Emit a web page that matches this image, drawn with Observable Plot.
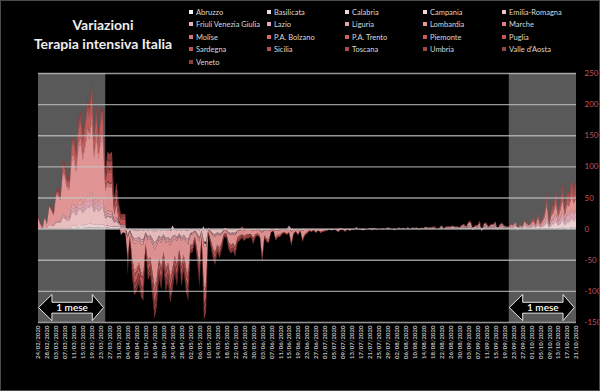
<!DOCTYPE html>
<html><head><meta charset="utf-8">
<script src="https://cdn.jsdelivr.net/npm/d3@7"></script>
<script src="https://cdn.jsdelivr.net/npm/@observablehq/plot@0.6"></script>
<style>
html,body{margin:0;padding:0;background:#000;}
#wrap{position:relative;width:600px;height:391px;background:#000;overflow:hidden;font-family:Lato,"Open Sans",sans-serif;}
#chart{position:absolute;left:0;top:0;}
#frame{position:absolute;left:0;top:0;width:600px;height:391px;box-sizing:border-box;border:1px solid #4a4a4a;pointer-events:none;}
#title{position:absolute;left:20px;width:166px;top:15px;text-align:center;color:#eeeeee;font-weight:700;font-size:14px;line-height:19px;}
.leg{position:absolute;font-size:7.5px;color:#d9d9d9;white-space:nowrap;line-height:9px;}
.leg i{display:inline-block;width:4px;height:4px;margin-right:3px;vertical-align:middle;position:relative;top:-1px;}
</style></head>
<body><div id="wrap"><div id="chart"></div><div id="title">Variazioni<br>Terapia intensiva Italia</div><div id="legend"></div><div id="frame"></div></div>
<script>
const regions = ["Abruzzo","Basilicata","Calabria","Campania","Emilia-Romagna","Friuli Venezia Giulia","Lazio","Liguria","Lombardia","Marche","Molise","P.A. Bolzano","P.A. Trento","Piemonte","Puglia","Sardegna","Sicilia","Toscana","Umbria","Valle d'Aosta","Veneto"];
const colors = ["#f2f2f2","#e8dcdc","#efd4d4","#f2d6da","#f0c4c4","#eab0bc","#e6a8bc","#e8a4a4","#e89898","#e08080","#dc7078","#d86868","#d26262","#cc5c5c","#c65656","#bb5454","#b35050","#ab4c4c","#a24848","#984444","#8e3c3c"];
const startDate = "2020-02-24";
const yTicks = [-150,-100,-50,0,50,100,150,200,250];

const abruzzo = [
0,0,0,0,0,0,0,0,0,0,
0,0,0,0,0,1,1,1,2,1,
1,1,2,1,2,1,2,1,1,1,
1,1,1,1,1,1,1,0,0,0,
-1,0,-1,-1,-1,-1,-1,-1,-1,-1,
-1,-1,-1,-1,-1,-1,-1,-1,-1,-1,
-1,-1,-1,-1,-1,-1,-1,-1,-1,-1,
0,-1,-1,0,-1,-1,0,0,-1,-1,
-1,-1,-1,0,0,-1,-1,-1,-1,0,
0,0,0,0,0,0,0,0,0,0,
0,0,0,0,0,0,0,0,0,0,
0,0,0,0,0,0,0,0,0,0,
0,0,0,0,0,0,0,0,0,0,
0,0,0,0,0,0,0,0,0,0,
0,0,0,0,0,0,0,0,0,0,
0,0,0,0,0,0,0,0,0,0,
0,0,0,0,0,0,0,0,0,0,
0,0,0,0,0,0,0,0,0,0,
0,0,0,0,0,0,0,0,0,0,
0,0,0,0,0,0,0,0,0,0,
0,0,0,0,0,0,0,0,0,0,
0,0,0,0,0,0,0,0,0,0,
0,0,0,1,0,0,0,1,0,0,
1,1,0,1,1,0,1,1,1,1,1];
const basilicata = [
0,0,0,0,0,0,0,0,0,0,
0,0,0,0,0,0,0,0,0,0,
0,0,0,1,0,0,0,1,0,0,
0,0,0,0,0,0,0,0,0,0,
0,0,0,0,0,0,0,0,0,0,
0,0,-1,0,0,0,0,0,0,0,
0,0,0,0,0,0,0,0,0,0,
0,0,0,0,0,0,0,0,0,0,
0,0,0,0,0,0,0,0,0,0,
0,0,0,0,0,0,0,0,0,0,
0,0,0,0,0,0,0,0,0,0,
0,0,0,0,0,0,0,0,0,0,
0,0,0,0,0,0,0,0,0,0,
0,0,0,0,0,0,0,0,0,0,
0,0,0,0,0,0,0,0,0,0,
0,0,0,0,0,0,0,0,0,0,
0,0,0,0,0,0,0,0,0,0,
0,0,0,0,0,0,0,0,0,0,
0,0,0,0,0,0,0,0,0,0,
0,0,0,0,0,0,0,0,0,0,
0,0,0,0,0,0,0,0,0,0,
0,0,0,0,0,0,0,0,0,0,
0,0,0,0,0,0,0,0,0,0,
0,0,0,0,0,0,0,0,0,0,0];
const calabria = [
0,0,0,0,0,0,0,0,0,0,
0,0,0,0,0,0,0,0,0,0,
0,1,0,1,0,1,0,1,0,1,
0,1,0,0,0,0,0,0,0,0,
0,0,0,-1,0,0,-1,0,0,0,
0,0,-1,0,0,0,0,-1,0,0,
0,0,0,0,0,0,0,0,0,0,
0,0,0,0,0,0,0,0,0,0,
0,0,0,0,0,0,0,0,0,0,
0,0,0,0,0,0,0,0,0,0,
0,0,0,0,0,0,0,0,0,0,
0,0,0,0,0,0,0,0,0,0,
0,0,0,0,0,0,0,0,0,0,
0,0,0,0,0,0,0,0,0,0,
0,0,0,0,0,0,0,0,0,0,
0,0,0,0,0,0,0,0,0,0,
0,0,0,0,0,0,0,0,0,0,
0,0,0,0,0,0,0,0,0,0,
0,0,0,0,0,0,0,0,0,0,
0,0,0,0,0,0,0,0,0,0,
0,0,0,0,0,0,0,0,0,0,
0,0,0,0,0,0,0,0,0,0,
0,0,0,0,0,0,0,0,0,0,
0,0,0,0,1,0,0,0,1,0,1];
const campania = [
0,0,0,0,0,0,0,0,0,0,
0,1,1,1,1,3,4,3,4,5,
4,5,5,5,6,4,5,4,5,5,
3,3,3,3,2,3,2,2,2,2,
-1,0,-1,-1,-2,-2,-2,-2,-1,-2,
-1,-2,-3,-2,-1,-2,-1,-2,-2,-3,
5,-1,-2,-1,-2,-1,-2,-2,-1,-1,
0,-1,-2,0,-3,-3,1,-1,-1,-1,
-1,-1,-1,0,0,-1,-1,-1,-1,0,
0,0,0,0,0,0,0,0,0,0,
0,0,0,0,0,0,0,0,0,0,
0,0,2,0,0,0,0,0,0,0,
0,0,0,0,0,0,0,0,0,0,
0,0,0,0,0,0,0,0,0,0,
0,0,0,0,0,0,0,0,0,0,
0,0,0,0,0,0,0,0,0,0,
0,0,0,0,0,0,0,0,0,1,
0,0,0,0,0,1,0,0,0,0,
1,0,1,0,1,0,1,0,1,1,
1,1,2,2,1,1,1,2,1,2,
2,1,1,2,2,1,2,2,1,1,
1,2,1,3,2,2,1,3,2,2,
2,3,2,4,2,3,5,9,2,5,
6,10,5,7,11,5,9,9,12,10,12];
const emilia = [
1,1,0,3,1,6,5,4,9,10,
9,17,15,12,12,20,22,17,23,25,
20,23,27,25,31,20,26,20,25,25,
12,15,14,14,6,8,4,1,2,0,
-8,-2,-9,-13,-12,-10,-13,-14,-4,-10,
-8,-13,-17,-15,-9,-12,-7,-12,-10,-14,
-11,-8,-11,-6,-11,-8,-12,-14,-5,-4,
-3,-6,-11,-3,-17,-16,-1,-3,-6,-7,
-4,-6,-4,-2,-2,-4,-5,-4,-5,-3,
-2,-2,-2,-2,-2,-2,-3,-2,-1,-2,
-4,-2,-3,-3,-1,-1,-3,-2,-2,-1,
-1,-2,-1,-4,-2,-1,-2,-1,-3,-2,
-1,-1,-1,0,-1,-1,-1,-1,0,-1,
0,-1,0,0,-1,0,-1,-1,0,-1,
0,-1,1,0,0,-1,0,0,0,0,
1,0,0,0,0,0,1,0,0,0,
0,0,0,1,0,0,0,1,0,0,
0,0,0,1,0,0,1,0,0,0,
1,0,0,1,0,1,0,1,0,1,
1,-1,1,1,-1,0,1,1,-1,1,
1,0,1,1,1,1,1,1,1,0,
0,0,1,1,-1,0,0,1,1,1,
0,1,0,1,0,1,1,3,0,2,
2,3,1,2,4,2,3,3,4,3,4];
const friuli = [
0,0,0,0,0,0,0,0,1,0,
1,1,1,1,1,2,1,1,2,2,
2,2,3,2,3,2,3,2,2,2,
1,1,1,1,0,1,0,0,0,0,
-1,0,-1,-1,-1,-1,-1,-1,-1,-1,
-1,-1,-1,-1,-1,-1,-1,-1,-1,-1,
-1,-1,-1,-1,-1,-1,-1,-1,-1,-1,
0,-1,-1,0,-1,-1,0,0,-1,-1,
-1,-1,-1,0,0,-1,-1,-1,-1,0,
0,0,0,0,0,0,0,0,0,0,
0,0,0,0,0,0,0,0,0,0,
0,0,0,0,0,0,0,0,0,0,
0,0,0,0,0,0,0,0,0,0,
0,0,0,0,0,0,0,0,0,0,
0,0,0,0,0,0,0,0,0,0,
0,0,0,0,0,0,0,0,0,0,
0,0,0,0,0,0,0,0,0,0,
0,0,0,0,0,0,0,0,0,0,
0,0,0,0,0,0,0,0,0,0,
0,0,0,0,0,0,0,0,0,0,
0,0,0,0,0,0,0,0,0,0,
0,0,0,0,0,0,0,0,0,0,
0,0,0,0,0,0,0,0,0,0,
0,0,0,0,0,0,0,0,1,0,0];
const lazio = [
0,0,0,0,0,0,0,1,1,1,
1,2,2,1,2,5,5,5,6,6,
5,6,7,7,8,5,7,5,7,7,
3,4,4,4,2,3,2,2,2,2,
-2,2,-2,-3,-3,-2,-3,-3,0,-2,
-2,-3,-4,-3,-2,-3,-1,-2,-2,-3,
-2,-2,-2,-1,-2,-2,-2,-3,-1,0,
0,-1,-2,0,4,-4,1,-1,-1,-1,
0,-1,-1,1,1,-1,-1,-1,-1,0,
0,0,0,0,0,0,0,0,0,0,
-1,0,0,0,-1,0,0,0,0,0,
0,0,3,0,0,0,0,0,0,0,
0,0,0,0,0,0,0,0,0,0,
0,0,0,0,0,1,0,0,0,0,
0,0,1,0,0,0,0,0,1,0,
0,0,0,0,0,0,1,0,0,0,
0,1,0,0,0,1,0,0,1,0,
0,1,0,1,1,0,1,1,0,1,
1,0,1,1,1,2,1,1,1,1,
2,1,2,3,1,2,1,3,-1,2,
2,1,2,1,3,-1,1,2,1,1,
1,2,2,2,-1,1,1,3,2,1,
2,3,1,4,1,3,4,8,1,5,
5,8,4,6,9,5,8,7,10,8,10];
const liguria = [
0,0,0,0,0,0,0,0,1,1,
1,2,2,2,2,6,6,5,7,8,
6,7,8,8,10,6,8,6,8,8,
4,5,5,5,2,3,2,1,1,1,
-3,-1,-3,-4,-4,-3,-4,-4,-2,-3,
-3,-4,-6,-5,-3,-4,-2,-4,-3,-5,
-4,-3,-3,-2,-3,-2,-4,-4,-1,-2,
-1,-2,-4,-1,-6,-5,0,-1,-2,-2,
-2,-2,-1,-1,-1,-1,-1,-1,-2,-1,
-1,0,-1,0,0,0,-1,0,-1,-1,
-2,-1,-1,-1,0,0,-1,-1,-1,0,
-1,0,0,-1,0,0,-1,0,-1,0,
0,0,0,0,-1,0,0,0,0,0,
0,0,0,0,0,0,0,0,0,0,
0,0,0,0,0,0,0,0,0,0,
0,0,0,0,0,0,0,0,0,0,
0,0,0,0,0,0,0,0,0,0,
0,0,0,0,0,0,0,0,0,0,
0,0,0,0,0,0,0,0,0,0,
0,0,1,0,0,0,1,0,0,1,
0,0,0,0,1,0,0,1,0,0,
0,0,0,1,0,0,0,1,0,0,
1,1,0,1,1,0,1,3,0,1,
2,3,1,2,3,1,3,3,4,3,3];
const lombardia = [
17,7,1,15,6,30,24,16,40,40,
33,64,60,46,44,71,72,58,83,89,
72,84,98,93,112,73,94,71,92,89,
37,40,38,40,10,20,2,-10,-6,-8,
-29,-10,-31,-44,-40,-36,-45,-48,-16,-33,
-29,-44,-60,-52,-31,-40,-24,-42,-35,-50,
-45,-28,-38,-22,-38,-27,-41,-48,-16,-16,
-9,-22,-38,-9,-68,-56,-4,-12,-19,-25,
-16,-19,-13,-5,-5,-13,-16,-14,-18,-10,
-8,-7,-9,-7,-7,-7,-11,-7,-6,-8,
-40,-8,-12,-13,-3,-2,-11,-7,-7,-5,
-4,-6,-5,-18,-5,-3,-6,-2,-13,-7,
-5,-2,-3,-2,-4,-2,-4,-3,-3,-2,
-1,-2,-1,-2,-4,-1,-1,-3,-1,-2,
-1,-1,1,-1,-1,-2,-1,0,0,-2,
0,-1,0,0,1,-1,0,1,0,-2,
0,1,-1,0,0,1,-1,1,0,1,
-2,0,1,1,0,1,0,1,-1,0,
2,0,1,1,1,1,1,1,0,2,
2,1,3,3,-2,1,1,3,-3,2,
2,1,2,2,3,-2,2,2,1,1,
1,2,1,3,-2,2,1,3,2,1,
3,4,2,6,2,4,7,13,2,8,
9,14,7,11,16,8,14,13,18,15,17];
const marche = [
0,0,0,0,0,0,1,1,2,2,
2,4,4,4,4,8,8,7,9,10,
8,9,10,10,12,8,10,8,10,10,
5,5,5,5,1,2,1,-1,0,0,
-3,-1,-4,-5,-5,-4,-5,-5,-2,-4,
-3,-5,-7,-6,-4,-4,-3,-5,-4,-6,
-4,-3,-4,-3,-4,-3,-5,-5,-2,-2,
-1,-3,-4,-1,-7,-6,0,-1,-2,-3,
-2,-2,-1,0,0,-1,-2,-2,-2,-1,
-1,-1,-1,-1,-1,0,-1,-1,0,0,
0,0,0,0,0,0,0,0,0,0,
0,0,0,0,0,0,0,0,0,0,
0,0,0,0,0,0,0,0,0,0,
0,0,0,0,0,0,0,0,0,0,
0,0,0,0,0,0,0,0,0,0,
0,0,0,0,0,0,0,0,0,0,
0,0,0,0,0,0,0,0,0,0,
0,0,0,0,0,0,0,0,0,0,
0,0,0,0,0,0,0,0,0,0,
0,0,0,0,0,0,0,0,0,0,
0,0,0,0,0,0,0,0,0,0,
0,0,0,0,0,0,0,0,0,0,
0,0,0,0,0,0,1,0,0,0,
1,1,1,0,1,0,1,0,1,1,1];
const molise = [
0,0,0,0,0,0,0,0,0,0,
0,0,0,0,0,0,0,0,0,0,
0,0,0,0,1,0,0,0,0,1,
0,0,0,0,0,0,0,0,0,0,
0,0,0,0,0,0,-1,0,0,0,
0,0,0,0,0,0,0,0,0,0,
0,0,0,0,0,0,0,0,0,0,
0,0,0,0,0,0,0,0,0,0,
0,0,0,0,0,0,0,0,0,0,
0,0,0,0,0,0,0,0,0,0,
0,0,0,0,0,0,0,0,0,0,
0,0,0,0,0,0,0,0,0,0,
0,0,0,0,0,0,0,0,0,0,
0,0,0,0,0,0,0,0,0,0,
0,0,0,0,0,0,0,0,0,0,
0,0,0,0,0,0,0,0,0,0,
0,0,0,0,0,0,0,0,0,0,
0,0,0,0,0,0,0,0,0,0,
0,0,0,0,0,0,0,0,0,0,
0,0,0,0,0,0,0,0,0,0,
0,0,0,0,0,0,0,0,0,0,
0,0,0,0,0,0,0,0,0,0,
0,0,0,0,0,0,0,0,0,0,
0,0,0,0,0,0,0,0,0,0,0];
const bolzano = [
0,0,0,0,0,0,0,0,0,0,
0,1,1,1,1,1,1,1,2,2,
1,2,2,2,2,1,2,1,1,1,
0,1,1,1,0,0,0,0,0,0,
-1,0,-1,-1,-1,-1,-1,-1,0,-1,
-1,-1,-1,-1,-1,-1,-1,-1,-1,-1,
-1,-1,-1,0,-1,-1,-1,-1,0,0,
0,0,-1,0,-1,-1,0,0,0,0,
0,0,0,0,0,0,0,0,0,0,
0,0,0,0,0,0,0,0,0,0,
0,0,0,0,0,0,0,0,0,0,
0,0,0,0,0,0,0,0,0,0,
0,0,0,0,0,0,0,0,0,0,
0,0,0,0,0,0,0,0,0,0,
0,0,0,0,0,0,0,0,0,0,
0,0,0,0,0,0,0,0,0,0,
0,0,0,0,0,0,0,0,0,0,
0,0,0,0,0,0,0,0,0,0,
0,0,0,0,0,0,0,0,0,0,
0,0,0,0,0,0,0,0,0,0,
0,0,0,0,0,0,0,0,0,0,
0,0,0,0,0,0,0,0,0,0,
0,0,0,0,0,0,0,0,0,0,
0,0,0,0,0,0,0,0,0,0,0];
const trento = [
0,0,0,0,0,0,0,0,0,1,
0,1,1,1,1,1,2,1,2,2,
2,2,2,2,3,2,2,2,2,2,
1,1,1,1,1,0,0,0,0,0,
-2,-1,-2,-2,-2,-2,-2,-2,-1,-2,
-2,-2,-2,-2,-2,-2,-2,-2,-2,-2,
-2,-2,-2,-1,-2,-2,-2,-2,-1,-1,
-1,-1,-2,-1,-2,-2,0,-1,-1,-1,
-1,-1,-1,-1,-1,-1,-1,-1,-1,-1,
-1,0,-1,-1,-1,0,-1,0,0,0,
0,0,0,0,0,0,0,0,0,0,
0,0,0,0,0,0,0,0,0,0,
0,0,0,0,0,0,0,0,0,0,
0,0,0,0,0,0,0,0,0,0,
0,0,0,0,0,0,0,0,0,0,
0,0,0,0,0,0,0,0,0,0,
0,0,0,0,0,0,0,0,0,0,
0,0,0,0,0,0,0,0,0,0,
0,0,0,0,0,0,0,0,0,0,
0,0,0,0,0,0,0,0,0,0,
0,0,0,0,0,0,0,0,0,0,
0,0,0,0,0,0,0,0,0,0,
0,0,0,0,0,0,0,0,0,0,
0,1,0,0,1,0,1,0,1,1,1];
const piemonte = [
0,0,0,0,0,1,1,1,3,4,
3,7,7,6,6,13,14,12,17,19,
15,18,21,20,24,16,20,15,19,19,
9,16,16,16,10,14,12,8,8,9,
-8,0,-9,-12,-11,-9,-12,-13,-4,-9,
-8,-12,-16,-14,-9,-11,-6,-11,-9,-13,
-10,-7,-10,-6,-10,-7,-11,-13,-4,-4,
-3,-6,-10,-3,-16,-15,-2,-3,-5,-7,
-4,-5,-4,-2,-2,-4,-4,-4,-5,-3,
-2,-2,-2,-2,-2,-2,-3,-2,-2,-3,
-5,-3,-4,-4,-1,-1,-3,-3,-2,-2,
-1,-2,-1,-4,-2,-1,-2,-1,-3,-2,
-2,-1,-1,-1,-1,0,-2,-1,-1,0,
-1,0,0,-1,-1,0,0,-1,0,-1,
-1,0,0,0,-1,0,0,0,0,-1,
0,0,0,0,0,0,0,0,0,-1,
0,0,0,0,0,0,0,0,0,0,
0,0,0,0,0,0,0,0,0,0,
0,0,0,0,0,0,0,0,0,0,
0,0,0,0,0,0,0,0,0,0,
0,0,0,0,0,0,0,0,1,0,
0,1,0,1,0,0,0,1,1,0,
1,2,1,3,1,2,3,6,1,4,
4,7,3,5,7,4,6,6,8,7,8];
const puglia = [
0,0,0,0,0,0,0,0,0,0,
0,0,1,0,0,2,3,3,3,4,
3,4,4,4,5,3,4,3,4,4,
2,4,4,4,2,3,3,2,2,2,
-1,-1,-1,-1,-1,-1,-1,-2,0,-1,
-1,-1,-3,-2,-1,-1,-1,-1,-1,2,
-2,-1,-2,-1,-2,-1,-1,-2,0,0,
0,-1,-2,0,-3,-2,0,0,-1,-1,
0,-1,0,0,0,0,0,0,-1,0,
0,3,0,0,0,0,0,0,0,0,
0,0,0,0,0,0,0,0,0,0,
0,0,0,0,0,0,0,0,0,0,
0,0,0,0,0,0,0,0,0,0,
0,0,0,0,0,0,0,0,0,0,
0,0,0,0,0,0,0,0,0,0,
0,0,0,0,0,0,0,0,0,0,
0,0,0,0,0,0,0,0,0,0,
0,0,0,0,0,0,0,0,0,0,
0,0,0,0,0,0,0,0,0,0,
0,0,0,1,0,1,0,1,0,0,
1,0,0,1,0,0,1,0,0,0,
0,0,0,0,0,1,0,0,1,0,
1,1,0,1,1,1,2,3,1,2,
2,3,2,3,4,2,3,3,4,3,4];
const sardegna = [
0,0,0,0,0,0,0,0,0,0,
0,0,0,0,0,0,0,0,0,0,
0,0,1,0,0,1,1,0,1,1,
0,1,1,1,0,0,0,0,0,0,
-1,0,-1,-1,-1,-1,-1,-1,0,-1,
-1,-1,-1,-1,-1,-1,-1,-1,-1,-1,
-1,-1,-1,0,-1,-1,-1,-1,0,0,
0,0,-1,0,-1,-1,0,0,0,0,
0,0,0,0,0,0,0,0,0,0,
0,0,0,0,0,0,0,0,0,0,
0,0,0,0,0,0,0,0,0,0,
0,0,0,0,0,0,0,0,0,0,
0,0,0,0,0,0,0,0,0,0,
0,0,0,0,0,0,0,0,0,0,
0,0,0,0,0,0,0,0,0,0,
0,0,0,0,0,0,0,0,0,0,
0,0,0,0,0,0,0,0,0,0,
0,0,0,0,1,0,1,1,0,0,
0,1,0,1,0,1,0,1,0,1,
1,0,1,1,0,0,0,1,0,0,
1,0,0,0,1,0,0,0,0,0,
0,0,0,0,0,0,0,0,0,0,
0,1,0,1,0,0,1,1,0,1,
1,1,1,1,2,1,1,1,2,2,2];
const sicilia = [
0,0,0,0,0,0,0,0,0,0,
0,0,0,0,0,1,2,1,2,2,
2,3,3,3,4,2,3,2,3,3,
1,2,2,3,1,1,1,0,0,1,
-2,-1,-2,-2,-2,-2,-2,-2,-1,-2,
-2,-2,-2,-2,-2,-2,-2,-2,-2,-2,
-2,-2,-2,-1,-2,-2,-2,-2,-1,-1,
-1,-1,-2,-1,-2,-2,-1,-1,-1,-1,
-1,-1,-1,-1,-1,-1,-1,-1,-1,-1,
-1,-1,-1,-1,-1,-1,-1,-1,0,0,
0,0,0,0,0,0,0,0,0,0,
0,0,0,0,0,0,0,0,0,0,
0,0,0,0,0,0,0,0,0,0,
0,0,0,0,0,0,0,0,0,0,
0,0,0,0,0,0,0,0,0,0,
0,0,0,0,0,0,0,0,0,0,
0,0,0,0,0,0,0,0,0,0,
0,0,0,0,0,0,0,0,0,0,
0,0,0,0,0,0,0,0,0,0,
1,0,1,1,0,1,0,1,0,1,
1,0,1,0,1,0,0,1,0,0,
0,1,0,1,0,0,1,1,0,0,
1,1,1,2,1,1,2,4,1,2,
3,4,2,3,4,2,4,3,5,4,5];
const toscana = [
0,0,0,0,0,0,0,0,1,1,
1,3,2,2,3,5,5,4,6,7,
6,6,7,7,9,6,7,5,7,7,
7,11,11,11,6,8,6,4,3,3,
-5,-1,-5,-7,-6,-6,-7,-8,-2,-5,
-5,-7,-9,-8,-5,-6,-4,-7,-6,-8,
-6,-4,-6,-3,-6,-4,-7,-8,-2,-2,
-2,-3,-6,-2,-9,-9,-1,-2,-3,-4,
-2,-3,-2,-1,-1,-2,-3,-2,-3,-2,
-2,-1,-2,-1,-1,-1,-2,-1,-1,-1,
-2,-1,-1,-1,0,0,-1,-1,-1,-1,
0,-1,0,-1,-1,0,0,0,-1,-1,
0,0,-1,0,0,0,0,0,-1,0,
0,0,0,0,0,0,0,-1,0,0,
0,0,0,0,0,0,0,0,0,0,
0,-1,0,0,0,0,0,0,0,0,
0,0,0,0,0,0,0,0,0,0,
0,0,0,0,0,0,0,0,0,0,
0,0,0,0,0,0,0,0,0,0,
0,0,0,0,0,0,0,0,0,0,
0,0,0,0,0,0,0,0,0,1,
0,0,1,0,0,1,0,1,0,1,
1,2,1,2,1,1,2,5,1,3,
3,5,2,4,6,3,5,5,6,5,6];
const umbria = [
0,0,0,0,0,0,0,0,0,0,
0,0,0,0,0,0,0,1,1,1,
1,1,1,1,1,1,1,1,1,1,
0,1,1,1,0,0,0,0,0,0,
-1,0,-1,-1,-1,-1,-1,-1,0,-1,
-1,-1,-1,-1,-1,-1,-1,-1,-1,-1,
-1,-1,-1,0,-1,-1,-1,-1,0,0,
0,0,-1,0,-1,-1,0,0,0,0,
0,0,0,0,0,0,0,0,0,0,
0,0,0,0,0,0,0,0,0,0,
0,0,0,0,0,0,0,0,0,0,
0,0,0,0,0,0,0,0,0,0,
0,0,0,0,0,0,0,0,0,0,
0,0,0,0,0,0,0,0,0,0,
0,0,0,0,0,0,0,0,0,0,
0,0,0,0,0,0,0,0,0,0,
0,0,0,0,0,0,0,0,0,0,
0,0,0,0,0,0,0,0,0,0,
0,0,0,0,0,0,0,0,0,0,
0,0,0,0,0,0,0,0,0,0,
0,0,0,0,0,0,0,0,0,0,
0,0,0,0,0,0,0,0,0,0,
0,0,0,0,0,1,0,1,0,1,
0,1,0,1,1,1,1,1,1,1,1];
const valledaosta = [
0,0,0,0,0,0,0,0,0,0,
0,0,0,0,0,0,0,0,1,0,
0,1,0,0,1,0,0,1,0,0,
0,0,0,0,0,0,0,0,0,0,
0,0,0,0,-1,0,0,0,0,0,
0,0,0,-1,0,0,0,0,0,0,
0,0,0,0,0,0,0,0,0,0,
0,0,0,0,0,0,0,0,0,0,
0,0,0,0,0,0,0,0,0,0,
0,0,0,0,0,0,0,0,0,0,
0,0,0,0,0,0,0,0,0,0,
0,0,0,0,0,0,0,0,0,0,
0,0,0,0,0,0,0,0,0,0,
0,0,0,0,0,0,0,0,0,0,
0,0,0,0,0,0,0,0,0,0,
0,0,0,0,0,0,0,0,0,0,
0,0,0,0,0,0,0,0,0,0,
0,0,0,0,0,0,0,0,0,0,
0,0,0,0,0,0,0,0,0,0,
0,0,0,0,0,0,0,0,0,0,
0,0,0,0,0,0,0,0,0,0,
0,0,0,0,0,0,0,0,0,0,
0,0,0,0,0,0,0,0,0,0,
0,0,0,0,0,0,0,0,1,0,0];
const veneto = [
2,1,0,2,1,4,4,3,5,6,
5,8,8,6,6,5,5,5,6,7,
6,6,8,7,9,6,7,6,7,7,
7,12,12,13,6,8,6,3,4,3,
-5,-1,-5,-7,-6,-6,-7,-8,-3,-5,
-5,-7,-9,-8,-5,-6,-4,-7,-6,-8,
-6,-5,-6,-4,-6,-4,-7,-8,-3,-3,
-1,-3,-6,-1,-9,-9,0,-2,-3,-4,
-3,-3,-2,-1,-1,-2,-3,-3,-3,-1,
-1,-1,-1,-1,-1,-1,-2,-1,0,-1,
-1,0,-1,-1,0,0,-1,0,0,0,
0,0,0,-1,0,0,0,0,0,0,
0,0,0,0,0,0,0,0,0,0,
0,0,0,0,0,0,0,0,0,0,
0,0,0,0,0,0,0,0,0,0,
0,0,0,1,0,0,0,0,0,0,
0,0,0,0,0,1,0,0,0,0,
0,1,0,0,0,0,0,1,0,0,
0,0,0,0,1,0,0,0,0,0,
0,0,0,1,0,0,0,1,0,0,
0,0,1,0,0,0,0,1,0,0,
0,0,0,0,0,0,1,0,0,0,
0,1,0,1,0,1,1,2,0,1,
2,3,1,2,3,1,2,2,3,3,3];

const series = [abruzzo,basilicata,calabria,campania,emilia,friuli,lazio,liguria,lombardia,marche,molise,bolzano,trento,piemonte,puglia,sardegna,sicilia,toscana,umbria,valledaosta,veneto];
// shaded "1 mese" windows (day index from start)
const bandDays = [[0,30],[210,240]];

const N = series[0].length;
series.forEach((s,i)=>{ if (s.length !== N) throw new Error(regions[i]+" length "+s.length+" vs "+N); });

const start = new Date(startDate+"T00:00:00Z");
const day = i => d3.utcDay.offset(start, i);
const rows = [];
series.forEach((s,r)=> s.forEach((v,i)=> rows.push({date: day(i), region: regions[r], value: v})));
const tickDates = d3.range(0, N, 4).map(day);

const bands = bandDays.map(([a,b],k)=>({k, x1: day(a), x2: day(b), mid: day((a+b)/2)}));
// block double arrow outline (value units on y, days on x)
const yc=-126, yHT=-105, yHB=-147, yST=-117.5, ySB=-135, neck=5.6, inset=0.4;
const arrowPts = [];
bandDays.forEach(([a,b],k)=>{
  const L=a+inset, R=b-inset;
  [[L,yc],[L+neck,yHT],[L+neck,yST],[R-neck,yST],[R-neck,yHT],[R,yc],[R-neck,yHB],[R-neck,ySB],[L+neck,ySB],[L+neck,yHB],[L,yc]]
   .forEach(([d,v])=>arrowPts.push({k, x: day(d), y: v}));
});

const plot = Plot.plot({
  width: 600, height: 391,
  marginLeft: 38, marginRight: 24, marginTop: 73, marginBottom: 69,
  style: {background: "#000", color: "#bfbfbf", fontFamily: "Lato, 'Open Sans', sans-serif", overflow: "visible"},
  x: {type: "utc", domain: [day(0), day(N-1)], axis: null},
  y: {domain: [-150, 250], axis: null},
  color: {domain: regions, range: colors},
  marks: [
    Plot.rectY(bands, {x1: "x1", x2: "x2", y1: -150, y2: 250, fill: "#595959"}),
    Plot.areaY(rows, {x: "date", y: "value", fill: "region", z: "region", curve: "linear", fillOpacity: 0.95}),
    Plot.ruleY(yTicks, {stroke: "#c8c8c8", strokeWidth: 1.4, strokeOpacity: 0.75}),
    Plot.line(arrowPts, {x: "x", y: "y", z: "k", fill: "#000", stroke: "#e6e6e6", strokeWidth: 1, curve: "linear"}),
    Plot.text(bands, {x: "mid", y: yc, text: () => "1 mese", fill: "#ffffff", fontSize: 10, fontWeight: 600}),
    Plot.axisY(yTicks, {anchor: "right", tickSize: 0, tickPadding: 8, fontSize: 8, fill: "#c8505a", textAnchor: "start", tickFormat: d => String(d), label: null}),
    Plot.axisX(tickDates, {anchor: "bottom", tickSize: 0, tickPadding: 3, tickRotate: -90, fontSize: 6, fill: "#c0c0c0", fontWeight: 700, tickFormat: d3.utcFormat("%d/%m/%Y"), label: null})
  ]
});
document.getElementById("chart").appendChild(plot);

const colX = [189, 267, 345, 423, 502];
const leg = document.getElementById("legend");
regions.forEach((name,i)=>{
  const el = document.createElement("div");
  el.className = "leg";
  el.style.left = colX[i%5] + "px";
  el.style.top = (7.5 + Math.floor(i/5)*12.5) + "px";
  el.innerHTML = `<i style="background:${colors[i]}"></i>` + name.replace(/&/g,"&amp;");
  leg.appendChild(el);
});
</script></body></html>
